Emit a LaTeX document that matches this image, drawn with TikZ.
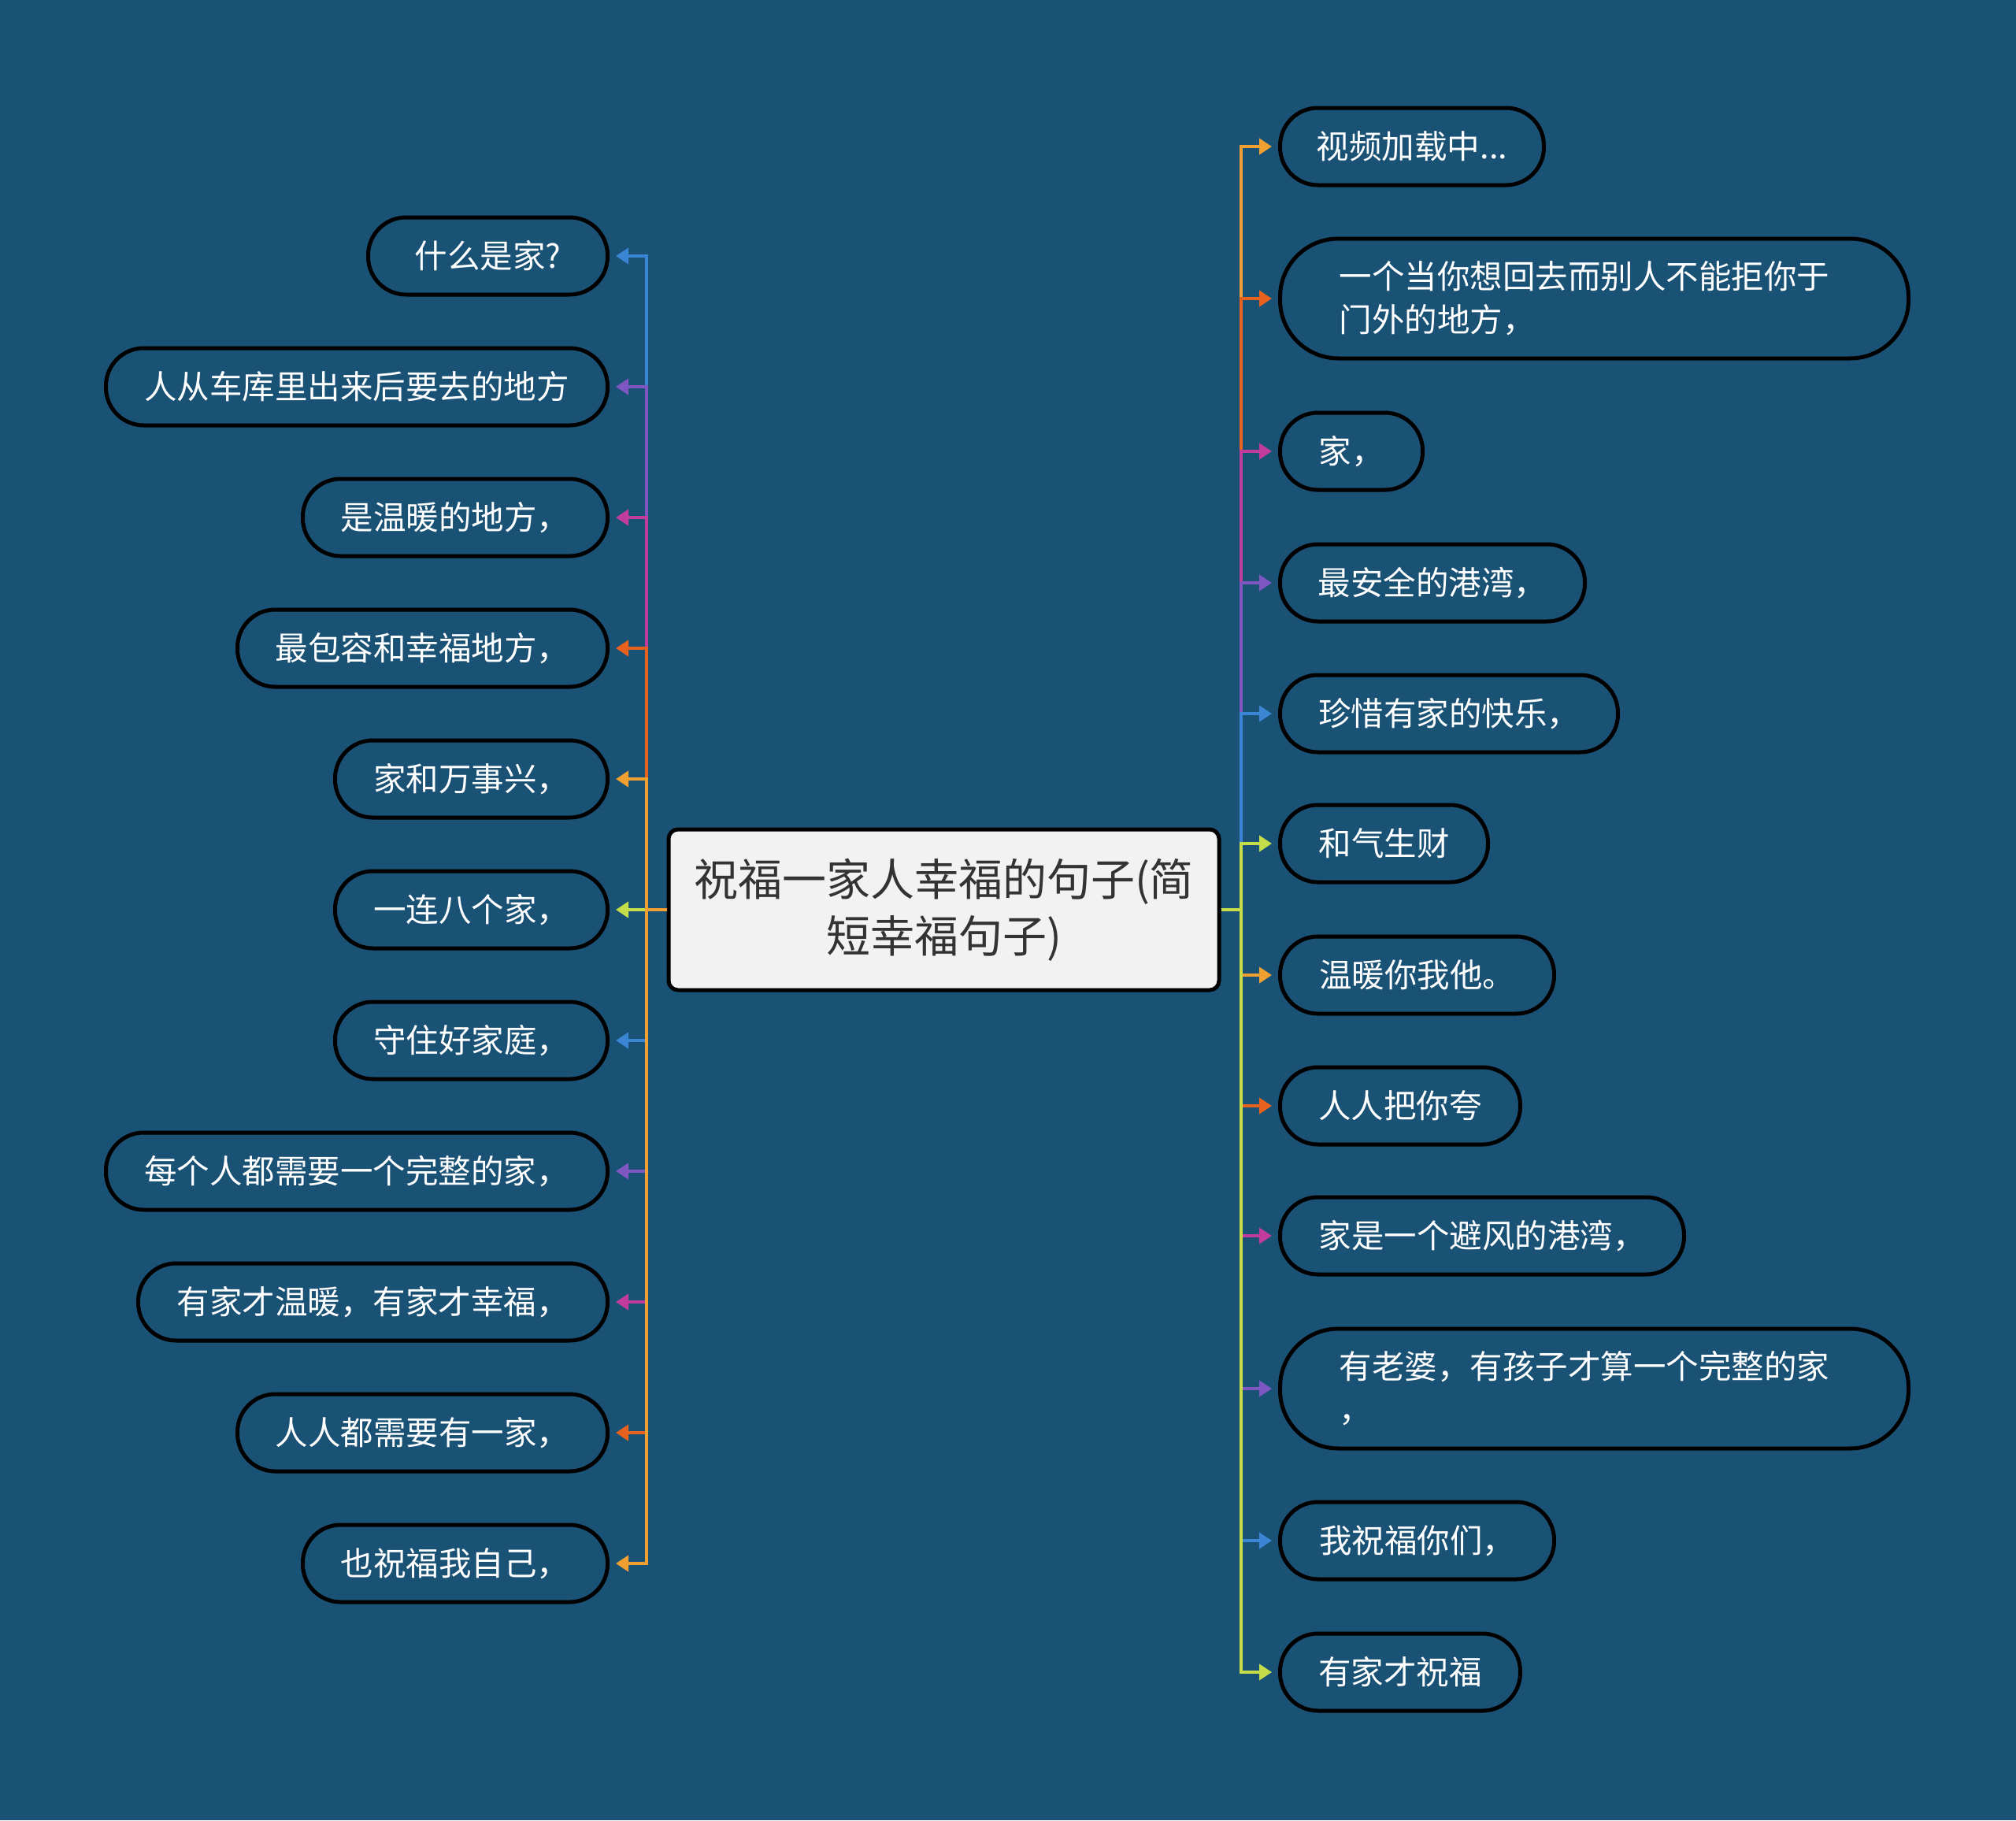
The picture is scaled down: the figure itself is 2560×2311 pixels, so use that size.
\documentclass[tikz,border=0pt]{standalone}
\usepackage{fontspec}
\newfontfamily\cjk{Noto Sans CJK SC}
\usetikzlibrary{arrows.meta}
\definecolor{bg}{HTML}{1A5275}
\definecolor{cblue}{HTML}{3A86D4}
\definecolor{cpurple}{HTML}{7E57C2}
\definecolor{cmag}{HTML}{C23C9F}
\definecolor{cred}{HTML}{E8621E}
\definecolor{corange}{HTML}{F0A030}
\definecolor{cgreen}{HTML}{C5DD48}
\definecolor{ctext}{HTML}{333333}
\definecolor{cfill}{HTML}{F2F2F2}
\tikzset{
  pill/.style={draw=black, line width=5pt, fill=bg, rounded corners=48pt,
    minimum height=98pt, minimum width=#1, inner xsep=0pt, inner ysep=0pt,
    text=white, font=\cjk\fontsize{41.5pt}{55pt}\selectfont},
  pilltwo/.style={draw=black, line width=5pt, fill=bg, rounded corners=74pt,
    minimum height=152pt, text width=648pt, inner xsep=75pt, inner ysep=0pt,
    align=left, text=white, font=\cjk\fontsize{41.5pt}{55pt}\selectfont},
  root/.style={draw=black, line width=5pt, fill=cfill, rounded corners=12pt,
    minimum width=699pt, minimum height=204pt, align=center, text=ctext,
    font=\cjk\fontsize{56pt}{72pt}\selectfont},
  conn/.style={line width=4pt, draw=#1, -{Triangle[length=16pt,width=20pt,fill=#1]}, shorten >=8pt}
}
\begin{document}
\begin{tikzpicture}[x=1pt,y=-1pt]
\path[fill=bg] (0,0) rectangle (2560,2311);
\useasboundingbox (0,0) rectangle (2560,2311);

\node[root] (C) at (1198.5,1155) {祝福一家人幸福的句子(简\\短幸福句子)};
\coordinate (bL) at (821,1155);
\coordinate (bR) at (1576,1155);

% left nodes
\node[pill=304pt, anchor=east] (L1) at (774,325) {什么是家?};
\node[pill=637pt, anchor=east] (L2) at (774,491) {人从车库里出来后要去的地方};
\node[pill=387pt, anchor=east] (L3) at (774,657) {是温暖的地方，};
\node[pill=470pt, anchor=east] (L4) at (774,823) {最包容和幸福地方，};
\node[pill=346pt, anchor=east] (L5) at (774,989) {家和万事兴，};
\node[pill=346pt, anchor=east] (L6) at (774,1155) {一连八个家，};
\node[pill=346pt, anchor=east] (L7) at (774,1321) {守住好家庭，};
\node[pill=637pt, anchor=east] (L8) at (774,1487) {每个人都需要一个完整的家，};
\node[pill=596pt, anchor=east] (L9) at (774,1653) {有家才温暖，有家才幸福，};
\node[pill=470pt, anchor=east] (L10) at (774,1819) {人人都需要有一家，};
\node[pill=387pt, anchor=east] (L11) at (774,1985) {也祝福我自己，};

% right nodes
\node[pill=335pt, anchor=west] (R1) at (1623,186) {视频加载中...};
\node[pilltwo, anchor=west] (R2) at (1623,379) {一个当你想回去而别人不能拒你于\\门外的地方，};
\node[pill=181pt, anchor=west] (R3) at (1623,573) {家，};
\node[pill=387pt, anchor=west] (R4) at (1623,740) {最安全的港湾，};
\node[pill=429pt, anchor=west] (R5) at (1623,906) {珍惜有家的快乐，};
\node[pill=264pt, anchor=west] (R6) at (1623,1071) {和气生财};
\node[pill=348pt, anchor=west] (R7) at (1623,1238) {温暖你我他。};
\node[pill=305pt, anchor=west] (R8) at (1623,1404) {人人把你夸};
\node[pill=513pt, anchor=west] (R9) at (1623,1569) {家是一个避风的港湾，};
\node[pilltwo, anchor=west] (R10) at (1623,1763) {有老婆，有孩子才算一个完整的家\\，};
\node[pill=348pt, anchor=west] (R11) at (1623,1956) {我祝福你们，};
\node[pill=305pt, anchor=west] (R12) at (1623,2123) {有家才祝福};

% left connectors
\draw[conn=cblue] (C.west) -- (bL) |- (L1);
\draw[conn=cpurple] (C.west) -- (bL) |- (L2);
\draw[conn=cmag] (C.west) -- (bL) |- (L3);
\draw[conn=cred] (C.west) -- (bL) |- (L4);
\draw[conn=corange] (C.west) -- (bL) |- (L5);
\draw[conn=cgreen] (C.west) -- (bL) -- (L6);
\draw[conn=cblue] (C.west) -- (bL) |- (L7);
\draw[conn=cpurple] (C.west) -- (bL) |- (L8);
\draw[conn=cmag] (C.west) -- (bL) |- (L9);
\draw[conn=cred] (C.west) -- (bL) |- (L10);
\draw[conn=corange] (C.west) -- (bL) |- (L11);

% right connectors
\draw[conn=corange] (C.east) -- (bR) |- (R1);
\draw[conn=cred] (C.east) -- (bR) |- (R2);
\draw[conn=cmag] (C.east) -- (bR) |- (R3);
\draw[conn=cpurple] (C.east) -- (bR) |- (R4);
\draw[conn=cblue] (C.east) -- (bR) |- (R5);
\draw[conn=cgreen] (C.east) -- (bR) |- (R6);
\draw[conn=corange] (C.east) -- (bR) |- (R7);
\draw[conn=cred] (C.east) -- (bR) |- (R8);
\draw[conn=cmag] (C.east) -- (bR) |- (R9);
\draw[conn=cpurple] (C.east) -- (bR) |- (R10);
\draw[conn=cblue] (C.east) -- (bR) |- (R11);
\draw[conn=cgreen] (C.east) -- (bR) |- (R12);
\end{tikzpicture}
\end{document}
